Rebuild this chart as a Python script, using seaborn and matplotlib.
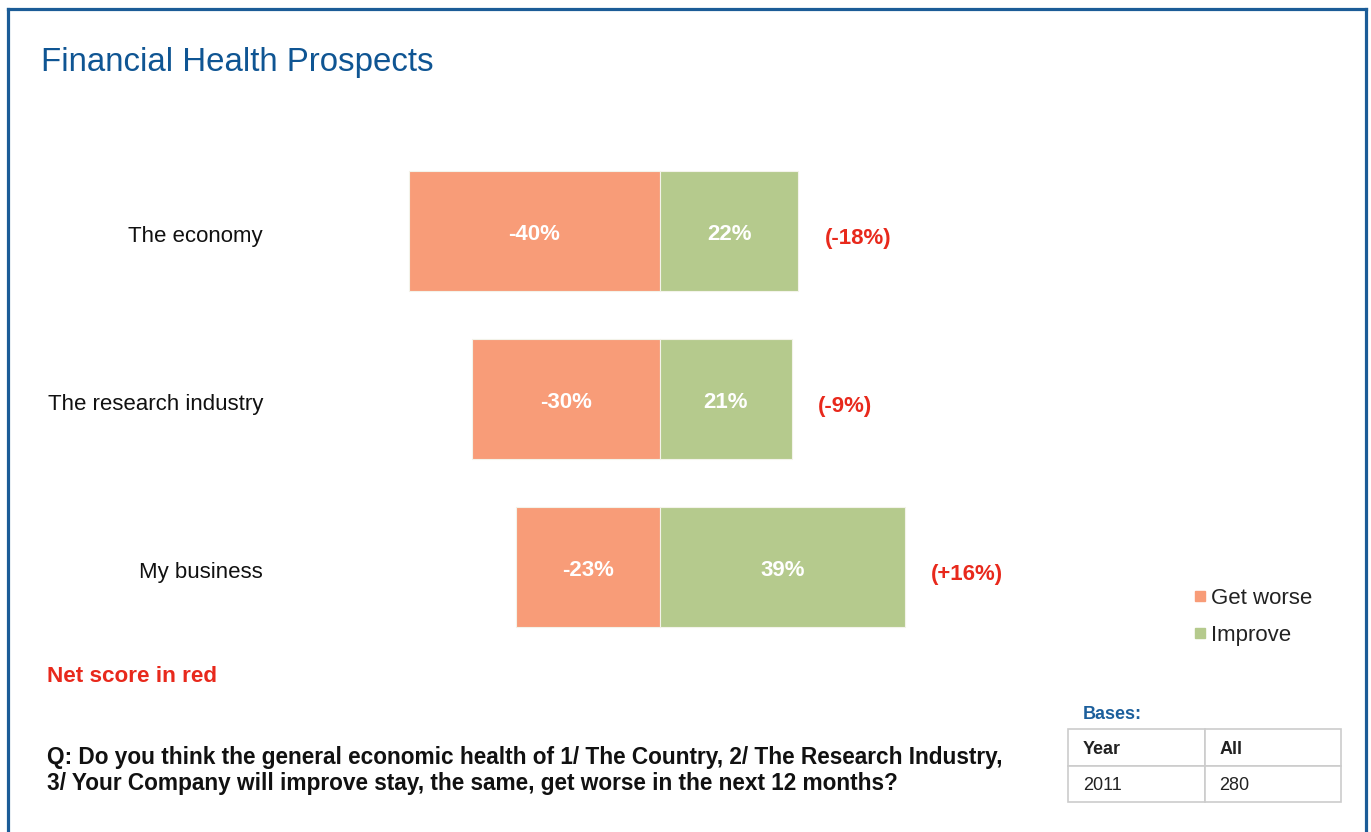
import numpy as np
import pandas as pd
import matplotlib
matplotlib.use("Agg")
import matplotlib.pyplot as plt
from matplotlib.lines import Line2D
from matplotlib.transforms import ScaledTranslation
import seaborn as sns

# ---- data ----
categories = ["The economy", "The research industry", "My business"]
get_worse = [-40, -30, -23]
improve = [22, 21, 39]
series_names = ["Get worse", "Improve"]
bases_header = ["Year", "All"]
bases_row = ["2011", "280"]

sns.set_theme(style="white")
plt.rcParams["font.family"] = ["Liberation Sans", "DejaVu Sans"]

W, H = 1371, 832
fig = plt.figure(figsize=(W / 100, H / 100), dpi=100)
fig.patch.set_facecolor("white")

def fx(px):
    return px / W

def fy(py):
    return 1 - py / H

ORANGE = "#f89c78"
GREEN = "#b5ca8d"
RED = "#e8291c"
BLUE = "#0f5593"

df = pd.DataFrame({
    "category": categories * 2,
    "value": get_worse + improve,
    "series": [series_names[0]] * 3 + [series_names[1]] * 3,
})

# axes: pixels 280..1160 horizontally, 147..651 vertically
ax_l, ax_r, ax_t, ax_b = 280, 1160, 147, 651
ax = fig.add_axes([fx(ax_l), fy(ax_b), fx(ax_r - ax_l), (ax_b - ax_t) / H])
sns.barplot(data=df, x="value", y="category", hue="series", dodge=False,
            palette=[ORANGE, GREEN], saturation=1, width=0.714, orient="h", ax=ax,
            edgecolor="#f3f3ea", linewidth=0.8, legend=False)

scale = 6.275  # px per percent
ax.set_xlim(-(660 - ax_l) / scale, (ax_r - 660) / scale)
ax.set_ylim(2.5, -0.5)
ax.set_xlabel("")
ax.set_ylabel("")
ax.set_xticks([])
ax.tick_params(axis="y", length=0, pad=12.2, labelsize=16, labelcolor="#111111")
for s in ax.spines.values():
    s.set_visible(False)
ax.set_facecolor("none")
shift = ScaledTranslation(0, -3 / 100, fig.dpi_scale_trans)
for lab in ax.get_yticklabels():
    lab.set_transform(lab.get_transform() + shift)

# bar labels
for cont, vals in zip(ax.containers, [get_worse, improve]):
    anns = ax.bar_label(cont, labels=[f"{v}%" for v in vals], label_type="center",
                        color="white", fontweight="bold", fontsize=16)
    for a in anns:
        a.xyann = (0, -2.5)

# net scores
for i, (w, im) in enumerate(zip(get_worse, improve)):
    net = w + im
    txt = f"(+{net}%)" if net > 0 else f"({net}%)"
    ax.annotate(txt, xy=(im, i), xytext=(19, -5.5), textcoords="offset points",
                ha="left", va="center", color=RED, fontweight="bold", fontsize=16)

# title
fig.text(fx(41), fy(71), "Financial Health Prospects", color=BLUE, fontsize=23.8,
         ha="left", va="baseline")

# net score note and question
fig.text(fx(47), fy(682), "Net score in red", color=RED, fontweight="bold",
         fontsize=16.2, ha="left", va="baseline")
fig.text(fx(47), fy(764), "Q: Do you think the general economic health of 1/ The Country, 2/ The Research Industry,",
         color="#111111", fontweight="bold", fontsize=16.3, ha="left", va="baseline")
fig.text(fx(47), fy(790), "3/ Your Company will improve stay, the same, get worse in the next 12 months?",
         color="#111111", fontweight="bold", fontsize=16.3, ha="left", va="baseline")

# legend
handles = [Line2D([], [], marker="s", linestyle="none", markersize=7,
                  markerfacecolor=c, markeredgecolor=c) for c in [ORANGE, GREEN]]
fig.legend(handles, series_names, loc="upper left",
           bbox_to_anchor=(fx(1193.5), fy(588)), frameon=False, fontsize=16,
           handlelength=0.6, handletextpad=0.2, labelspacing=0.72,
           borderpad=0, borderaxespad=0, labelcolor="#222222")

# bases
fig.text(fx(1083), fy(719), "Bases:", color="#1c5f9c", fontweight="bold",
         fontsize=13, ha="left", va="baseline")
tax = fig.add_axes([fx(1068), fy(802), fx(1341 - 1068), (802 - 729) / H])
tax.axis("off")
tbl = tax.table(cellText=[bases_header, bases_row], cellLoc="left",
                bbox=[0, 0, 1, 1])
tbl.auto_set_font_size(False)
for (r, c), cell in tbl.get_celld().items():
    cell.set_edgecolor("#cccccc")
    cell.set_linewidth(1.2)
    cell.PAD = 0.11
    t = cell.get_text()
    t.set_fontsize(13)
    t.set_color("#222222")
    t.set_transform(t.get_transform() + ScaledTranslation(0, -2 / 100, fig.dpi_scale_trans))
    if r == 0:
        t.set_fontweight("bold")

# frame lines (left, top, right)
fc = "#1b5c97"
fig.add_artist(Line2D([fx(7.5), fx(7.5)], [0, fy(9)], color=fc, lw=2.3,
                      transform=fig.transFigure, solid_capstyle="projecting"))
fig.add_artist(Line2D([fx(7.5), fx(1365.5)], [fy(9), fy(9)], color=fc, lw=2.3,
                      transform=fig.transFigure, solid_capstyle="projecting"))
fig.add_artist(Line2D([fx(1365.5), fx(1365.5)], [fy(9), 0], color=fc, lw=2.3,
                      transform=fig.transFigure, solid_capstyle="projecting"))

fig.savefig("out.png", dpi=100)
